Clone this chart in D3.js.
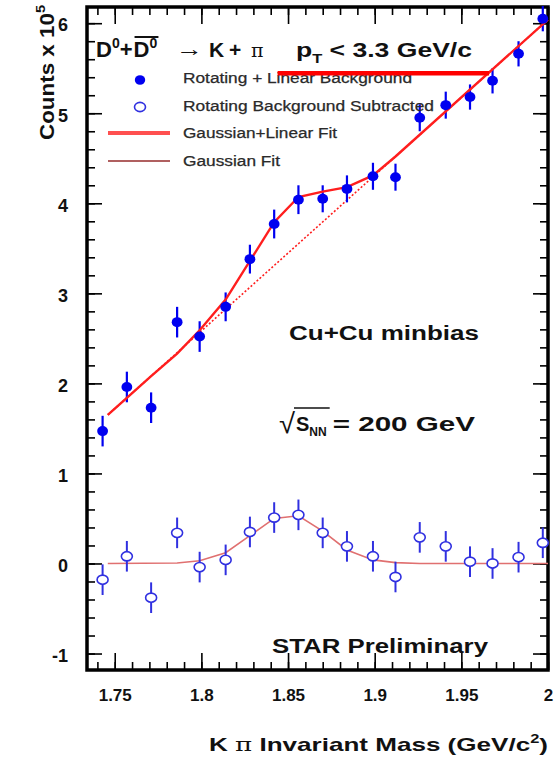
<!DOCTYPE html>
<html><head><meta charset="utf-8">
<script src="https://cdn.jsdelivr.net/npm/d3@7"></script>
<style>
body{margin:0;background:#fff}
svg{display:block}
text{font-family:'Liberation Sans',Arial,Helvetica,sans-serif}
</style>
</head><body>
<svg id="c" width="556" height="761"></svg>
<script>
// ---------- data ----------
const massBins      = [1.743,1.757,1.771,1.786,1.799,1.814,1.828,1.842,1.856,1.870,1.884,1.899,1.912,1.926,1.941,1.955,1.968,1.983,1.997];
const rotLinCounts  = [1.47,1.96,1.73,2.68,2.52,2.85,3.38,3.77,4.04,4.05,4.16,4.30,4.29,4.95,5.09,5.18,5.36,5.66,6.05];
const rotLinErr     = [0.17,0.17,0.17,0.17,0.17,0.16,0.16,0.16,0.16,0.15,0.15,0.15,0.15,0.15,0.15,0.14,0.14,0.14,0.14];
const subCounts     = [-0.18,0.08,-0.38,0.34,-0.04,0.04,0.35,0.51,0.54,0.34,0.19,0.08,-0.15,0.29,0.19,0.02,0.00,0.07,0.23];
const subErr        = [0.17,0.17,0.17,0.17,0.17,0.17,0.17,0.17,0.17,0.17,0.17,0.17,0.17,0.17,0.17,0.17,0.17,0.17,0.17];
const totalFitMass  = [1.746,1.757,1.771,1.786,1.799,1.814,1.828,1.842,1.856,1.870,1.884,1.899,1.912,2.000];
const totalFitCounts= [1.65,1.84,2.08,2.33,2.59,2.93,3.36,3.79,4.07,4.13,4.18,4.31,4.52,6.04];
const linBgMass     = [1.746,2.000];
const linBgCounts   = [1.65,6.04];
const gausFitMass   = [1.746,1.786,1.799,1.814,1.828,1.842,1.856,1.870,1.884,1.899,1.912,1.926,2.000];
const gausFitCounts = [0,0.005,0.03,0.12,0.31,0.50,0.53,0.36,0.15,0.04,0.01,0,0];
const stripeMass    = [1.844,1.966];
const stripeCounts  = [5.445,5.445];
const xMajorTicks   = [1.75,1.8,1.85,1.9,1.95,2.0];
const xTickLabels   = ["1.75","1.8","1.85","1.9","1.95","2"];
const yMajorTicks   = [-1,0,1,2,3,4,5,6];
const yTickLabels   = ["-1","0","1","2","3","4","5","6"];
const legendLabels  = ["Rotating + Linear Background","Rotating Background Subtracted","Gaussian+Linear Fit","Gaussian Fit"];

// ---------- layout ----------
const svg = d3.select('#c');
const M = {l:87, r:548, t:7, b:670};
const x = d3.scaleLinear().domain([1.734, 2.0]).range([M.l, M.r]);
const y = d3.scaleLinear().domain([-1.183, 6.18]).range([M.b, M.t]);
const blue = '#0000f0', openBlue = '#3030e0', red = '#ff1e1e';

const xMinor = d3.range(174, 201).map(v => v/100);
const yMinor = d3.range(-5, 31).map(v => v/5).filter(v => v >= -1.18 && v <= 6.18);

function tickAxis(axis, tr, vals, size){
  const g = svg.append('g').attr('transform', tr)
    .call(axis.tickValues(vals).tickSize(-size).tickFormat(''));
  g.select('.domain').remove();
  g.selectAll('line').attr('stroke','#000').attr('stroke-width',1.6);
}
tickAxis(d3.axisBottom(x), `translate(0,${M.b})`, xMinor, 8);
tickAxis(d3.axisBottom(x), `translate(0,${M.b})`, xMajorTicks, 17);
tickAxis(d3.axisTop(x), `translate(0,${M.t})`, xMinor, 8);
tickAxis(d3.axisTop(x), `translate(0,${M.t})`, xMajorTicks, 17);
tickAxis(d3.axisLeft(y), `translate(${M.l},0)`, yMinor, 8);
tickAxis(d3.axisLeft(y), `translate(${M.l},0)`, yMajorTicks, 15);
tickAxis(d3.axisRight(y), `translate(${M.r},0)`, yMinor, 8);
tickAxis(d3.axisRight(y), `translate(${M.r},0)`, yMajorTicks, 15);

// tick labels
const xl = svg.append('g').attr('transform',`translate(0,${M.b})`)
  .call(d3.axisBottom(x).tickValues(xMajorTicks).tickSize(0).tickPadding(19).tickFormat((d,i)=>xTickLabels[i]));
xl.select('.domain').remove();
xl.selectAll('text').attr('font-family','Liberation Sans, Arial').attr('font-size',17).attr('font-weight','bold').attr('fill','#111');
const yl = svg.append('g').attr('transform',`translate(${M.l},2)`)
  .call(d3.axisLeft(y).tickValues(yMajorTicks).tickSize(0).tickPadding(19).tickFormat((d,i)=>yTickLabels[i]));
yl.select('.domain').remove();
yl.selectAll('text').attr('font-family','Liberation Sans, Arial').attr('font-size',18).attr('font-weight','bold').attr('fill','#111');

// frame
svg.append('rect').attr('x',M.l).attr('y',M.t).attr('width',M.r-M.l).attr('height',M.b-M.t)
  .attr('fill','none').attr('stroke','#000').attr('stroke-width',3.5);

const line = d3.line().x(d=>x(d[0])).y(d=>y(d[1]));

// Gaussian fit (thin)
svg.append('path').datum(d3.zip(gausFitMass, gausFitCounts)).attr('d', line)
  .attr('fill','none').attr('stroke','#e07070').attr('stroke-width',1.6);

// subtracted points
const sub = d3.zip(massBins, subCounts, subErr);
svg.append('g').selectAll('line').data(sub).join('line')
  .attr('x1',d=>x(d[0])).attr('x2',d=>x(d[0]))
  .attr('y1',d=>y(d[1]-d[2])).attr('y2',d=>y(d[1]+d[2]))
  .attr('stroke',openBlue).attr('stroke-width',2);
svg.append('g').selectAll('ellipse').data(sub).join('ellipse')
  .attr('cx',d=>x(d[0])).attr('cy',d=>y(d[1])).attr('rx',5.5).attr('ry',4.6)
  .attr('fill','#fff').attr('stroke',openBlue).attr('stroke-width',1.6);

// linear background (dotted) and total fit
svg.append('path').datum(d3.zip(linBgMass, linBgCounts)).attr('d', line)
  .attr('fill','none').attr('stroke',red).attr('stroke-width',1.6).attr('stroke-dasharray','2,2');

// rotating + linear bg points
const rl = d3.zip(massBins, rotLinCounts, rotLinErr);
svg.append('g').selectAll('line').data(rl).join('line')
  .attr('x1',d=>x(d[0])).attr('x2',d=>x(d[0]))
  .attr('y1',d=>y(d[1]-d[2])).attr('y2',d=>y(d[1]+d[2]))
  .attr('stroke',blue).attr('stroke-width',2.2);
svg.append('path').datum(d3.zip(totalFitMass, totalFitCounts)).attr('d', line)
  .attr('fill','none').attr('stroke',red).attr('stroke-width',2.4);
svg.append('g').selectAll('ellipse').data(rl).join('ellipse')
  .attr('cx',d=>x(d[0])).attr('cy',d=>y(d[1])).attr('rx',5.4).attr('ry',5)
  .attr('fill',blue);

// ---------- legend ----------
const lg = svg.append('g');
const legY = [78, 106, 133, 161];
lg.append('ellipse').attr('cx',140).attr('cy',legY[0]+2).attr('rx',5.2).attr('ry',4.8).attr('fill',blue);
lg.append('ellipse').attr('cx',140).attr('cy',legY[1]+1).attr('rx',5.5).attr('ry',4.6).attr('fill','#fff').attr('stroke',openBlue).attr('stroke-width',1.6);
lg.append('line').attr('x1',108).attr('x2',170).attr('y1',legY[2]).attr('y2',legY[2]).attr('stroke','#ff5050').attr('stroke-width',4);
lg.append('line').attr('x1',108).attr('x2',170).attr('y1',legY[3]).attr('y2',legY[3]).attr('stroke','#b06060').attr('stroke-width',2);
const legW = [229, 251, 154, 97];
legendLabels.forEach((t,i)=>{
  lg.append('text').attr('x',183).attr('y',legY[i]+5).attr('font-size',14).attr('fill','#2a2a2a')
    .attr('stroke','#2a2a2a').attr('stroke-width',0.25)
    .attr('textLength',legW[i]).attr('lengthAdjust','spacingAndGlyphs').text(t);
});

// red stripe artifact over the legend
svg.append('path').datum(d3.zip(stripeMass, stripeCounts)).attr('d', line)
  .attr('fill','none').attr('stroke','#ff0000').attr('stroke-width',4.5);

// ---------- title ----------
const T = svg.append('g').attr('font-weight','bold').attr('fill','#111');
const t1 = T.append('text').attr('x',96).attr('y',57).attr('font-size',22);
t1.append('tspan').text('D');
t1.append('tspan').attr('font-size',14).attr('dy',-9).text('0');
t1.append('tspan').attr('dy',9).text('+');
const b1 = t1.node().getBBox();
const t1b = T.append('text').attr('x',b1.x+b1.width+1).attr('y',57).attr('font-size',22);
t1b.append('tspan').text('D');
t1b.append('tspan').attr('font-size',14).attr('dy',-9).text('0');
const bb = t1b.node().getBBox();
T.append('line').attr('x1',bb.x+1).attr('x2',bb.x+bb.width+1).attr('y1',bb.y+2).attr('y2',bb.y+2)
  .attr('stroke','#111').attr('stroke-width',2);
T.append('text').attr('x',176).attr('y',56).attr('font-size',22).attr('font-weight','normal')
  .attr('textLength',27).attr('lengthAdjust','spacingAndGlyphs').text('\u2192');
const t2 = T.append('text').attr('x',209).attr('y',57).attr('font-size',21);
t2.append('tspan').text('K');
t2.append('tspan').attr('x',229).text('+');
t2.append('tspan').attr('x',251).attr('font-weight','normal').attr('font-family','DejaVu Serif, serif').attr('font-size',19).text('\u03c0');
const t3 = T.append('text').attr('x',296).attr('y',57).attr('font-size',21)
  .attr('textLength',176).attr('lengthAdjust','spacingAndGlyphs');
t3.append('tspan').text('p');
t3.append('tspan').attr('font-size',13).attr('dy',6).text('T');
t3.append('tspan').attr('dy',-6).text(' < 3.3 GeV/c');

// ---------- annotations ----------
T.append('text').attr('x',289).attr('y',340).attr('font-size',20)
  .attr('textLength',190).attr('lengthAdjust','spacingAndGlyphs').text('Cu+Cu minbias');
T.append('text').attr('x',279).attr('y',433).attr('font-size',28).attr('font-weight','normal')
  .attr('textLength',16).attr('lengthAdjust','spacingAndGlyphs').text('\u221a');
const sn = T.append('text').attr('x',296).attr('y',431).attr('font-size',20);
sn.append('tspan').text('S');
sn.append('tspan').attr('font-size',12).attr('dy',5).text('NN');
const sbb = sn.node().getBBox();
T.append('line').attr('x1',sbb.x-2).attr('x2',sbb.x+sbb.width+3).attr('y1',408).attr('y2',408)
  .attr('stroke','#111').attr('stroke-width',1.6);
T.append('text').attr('x',sbb.x+sbb.width+6).attr('y',431).attr('font-size',20)
  .attr('textLength',475-(sbb.x+sbb.width+6)).attr('lengthAdjust','spacingAndGlyphs').text('= 200 GeV');
T.append('text').attr('x',272).attr('y',653).attr('font-size',21)
  .attr('textLength',216).attr('lengthAdjust','spacingAndGlyphs').text('STAR Preliminary');

// axis titles
const xt = T.append('text').attr('x',209).attr('y',751).attr('font-size',19)
  .attr('textLength',339).attr('lengthAdjust','spacingAndGlyphs');
xt.append('tspan').text('K ');
xt.append('tspan').attr('font-weight','normal').attr('font-family','DejaVu Serif, serif').text('\u03c0');
xt.append('tspan').text(' Invariant Mass (GeV/c');
xt.append('tspan').attr('font-size',12).attr('dy',-8).text('2');
xt.append('tspan').attr('dy',8).text(')');

const yt = T.append('text').attr('transform','translate(54,5) rotate(-90)').attr('text-anchor','end')
  .attr('font-size',20).attr('textLength',135).attr('lengthAdjust','spacingAndGlyphs');
yt.append('tspan').text('Counts x 10');
yt.append('tspan').attr('font-size',13).attr('dy',-9).text('5');
</script>
</body></html>
